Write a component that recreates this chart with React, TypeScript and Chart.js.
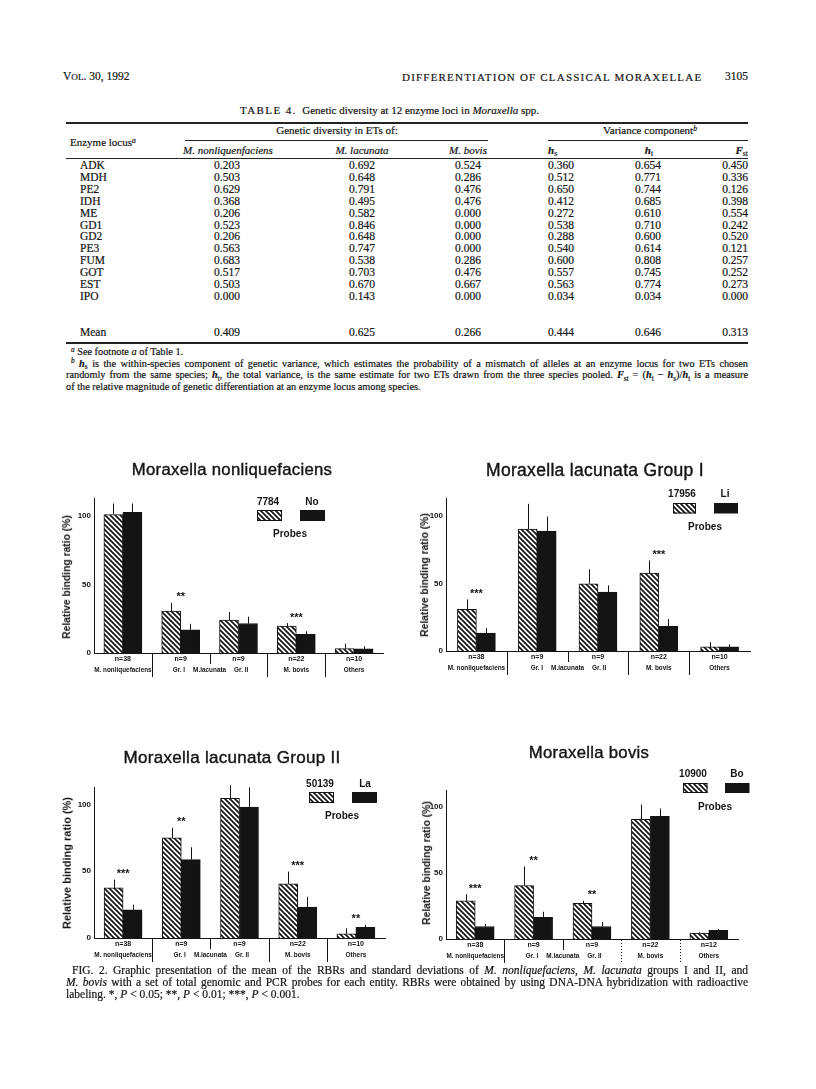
import React, { useEffect, useRef } from "react";
import { Chart, registerables } from "chart.js";

Chart.register(...registerables);

const SERIF = "'Liberation Serif', 'Times New Roman', serif";
const SANS = "'Liberation Sans', Arial, Helvetica, sans-serif";
const INK = "#141414";

// ---------------- TABLE 4 data ----------------
const enzymeLoci = ["ADK", "MDH", "PE2", "IDH", "ME", "GD1", "GD2", "PE3", "FUM", "GOT", "EST", "IPO"];
const divNonliquefaciens = ["0.203", "0.503", "0.629", "0.368", "0.206", "0.523", "0.206", "0.563", "0.683", "0.517", "0.503", "0.000"];
const divLacunata = ["0.692", "0.648", "0.791", "0.495", "0.582", "0.846", "0.648", "0.747", "0.538", "0.703", "0.670", "0.143"];
const divBovis = ["0.524", "0.286", "0.476", "0.476", "0.000", "0.000", "0.000", "0.000", "0.286", "0.476", "0.667", "0.000"];
const varHs = ["0.360", "0.512", "0.650", "0.412", "0.272", "0.538", "0.288", "0.540", "0.600", "0.557", "0.563", "0.034"];
const varHt = ["0.654", "0.771", "0.744", "0.685", "0.610", "0.710", "0.600", "0.614", "0.808", "0.745", "0.774", "0.034"];
const varFst = ["0.450", "0.336", "0.126", "0.398", "0.554", "0.242", "0.520", "0.121", "0.257", "0.252", "0.273", "0.000"];
const meanRow = ["0.409", "0.625", "0.266", "0.444", "0.646", "0.313"];

// ---------------- FIG. 2 data ----------------
const groupNames = ["M. nonliquefaciens", "Gr. I", "Gr. II", "M. bovis", "Others"];
const lacunataSpan = "M.lacunata";
const yTicks = [0, 50, 100];
const yMax = 113;
const yAxisTitle = "Relative binding ratio (%)";
const probesWord = "Probes";

// Moraxella nonliquefaciens
const nonliqTitle = "Moraxella nonliquefaciens";
const nonliqProbes = ["7784", "No"];
const nonliqCounts = ["n=38", "n=9", "n=9", "n=22", "n=10"];
const nonliqGenomic = [101, 30.6, 24, 19.6, 3.2];
const nonliqGenomicSD = [8, 5.9, 5.9, 2.2, 3.6];
const nonliqPcr = [102.6, 16.9, 21.5, 13.7, 3.0];
const nonliqPcrSD = [6.4, 4.4, 5.0, 2.2, 1.9];
const nonliqSig = ["", "**", "", "***", ""];

// Moraxella lacunata Group I
const lacITitle = "Moraxella lacunata Group I";
const lacIProbes = ["17956", "Li"];
const lacICounts = ["n=38", "n=9", "n=9", "n=22", "n=10"];
const lacIGenomic = [30.7, 90, 49.7, 57.5, 3.0];
const lacIGenomicSD = [7.4, 18.7, 10.6, 9.4, 3.6];
const lacIPcr = [13.3, 88.5, 43.5, 18.2, 3.0];
const lacIPcrSD = [3.7, 10.8, 5.0, 5.4, 2.0];
const lacISig = ["***", "", "", "***", ""];

// Moraxella lacunata Group II
const lacIITitle = "Moraxella lacunata Group II";
const lacIIProbes = ["50139", "La"];
const lacIICounts = ["n=38", "n=9", "n=9", "n=22", "n=10"];
const lacIIGenomic = [37.5, 74.9, 104.5, 40.5, 3.2];
const lacIIGenomicSD = [6.2, 7.6, 9.9, 9.2, 4.0];
const lacIIPcr = [21.1, 58.7, 98, 23.1, 7.9];
const lacIIPcrSD = [3.8, 9.2, 14.7, 7.7, 2.0];
const lacIISig = ["***", "**", "", "***", "**"];

// Moraxella bovis
const bovisTitle = "Moraxella bovis";
const bovisProbes = ["10900", "Bo"];
const bovisCounts = ["n=38", "n=9", "n=9", "n=22", "n=12"];
const bovisGenomic = [29, 40.5, 27, 90.8, 4.5];
const bovisGenomicSD = [5, 14.5, 2, 11.2, 0.5];
const bovisPcr = [9.5, 16.5, 9.5, 93, 6.5];
const bovisPcrSD = [2, 4.2, 3.3, 6, 1];
const bovisSig = ["***", "**", "**", "", ""];

type P2 = [number, number];
type PanelSpec = {
  title: string; titleX: number; titleY: number; titleSize: number;
  axisX: number; right: number; top: number; base: number;
  yTitleX: number; yTitleY: number; yTitleSize: number;
  probes: string[]; counts: string[];
  genomic: number[]; genomicSD: number[]; pcr: number[]; pcrSD: number[]; sig: string[];
  leg: { t1: P2; t2: P2; s1: number[]; s2: number[]; p: P2 };
  dotted: number[];
};

const panels: PanelSpec[] = [
  {
    title: nonliqTitle, titleX: 232, titleY: 470, titleSize: 16.7,
    axisX: 94, right: 383, top: 498, base: 653,
    yTitleX: 67, yTitleY: 577, yTitleSize: 10.3,
    probes: nonliqProbes, counts: nonliqCounts,
    genomic: nonliqGenomic, genomicSD: nonliqGenomicSD, pcr: nonliqPcr, pcrSD: nonliqPcrSD, sig: nonliqSig,
    leg: { t1: [268, 502], t2: [312, 502], s1: [257, 510, 25, 11], s2: [300, 510, 25, 11], p: [290, 534] },
    dotted: [],
  },
  {
    title: lacITitle, titleX: 595, titleY: 470, titleSize: 17.5,
    axisX: 446, right: 750, top: 498, base: 651,
    yTitleX: 425, yTitleY: 575, yTitleSize: 10.3,
    probes: lacIProbes, counts: lacICounts,
    genomic: lacIGenomic, genomicSD: lacIGenomicSD, pcr: lacIPcr, pcrSD: lacIPcrSD, sig: lacISig,
    leg: { t1: [682, 494], t2: [725, 494], s1: [673, 503, 23, 10.5], s2: [714, 503, 24, 10.5], p: [705, 527] },
    dotted: [],
  },
  {
    title: lacIITitle, titleX: 232, titleY: 758, titleSize: 17,
    axisX: 94, right: 385, top: 787, base: 938,
    yTitleX: 67, yTitleY: 863, yTitleSize: 11,
    probes: lacIIProbes, counts: lacIICounts,
    genomic: lacIIGenomic, genomicSD: lacIIGenomicSD, pcr: lacIIPcr, pcrSD: lacIIPcrSD, sig: lacIISig,
    leg: { t1: [320, 784], t2: [365, 784], s1: [309, 792, 25, 11], s2: [352, 792, 25, 11], p: [342, 816] },
    dotted: [],
  },
  {
    title: bovisTitle, titleX: 589, titleY: 753, titleSize: 16.7,
    axisX: 446, right: 738, top: 790, base: 939,
    yTitleX: 427, yTitleY: 863, yTitleSize: 10.3,
    probes: bovisProbes, counts: bovisCounts,
    genomic: bovisGenomic, genomicSD: bovisGenomicSD, pcr: bovisPcr, pcrSD: bovisPcrSD, sig: bovisSig,
    leg: { t1: [693, 774], t2: [737, 774], s1: [683, 783, 24.5, 10], s2: [725, 783, 24.5, 10], p: [715, 807] },
    dotted: [2, 3],
  },
];

function makeHatch(ctx: CanvasRenderingContext2D): CanvasPattern {
  const s = 5;
  const tile = document.createElement("canvas");
  tile.width = s;
  tile.height = s;
  const t = tile.getContext("2d")!;
  t.fillStyle = "#fff";
  t.fillRect(0, 0, s, s);
  t.strokeStyle = INK;
  t.lineWidth = 1.7;
  t.beginPath();
  for (const k of [-s, 0, s]) {
    t.moveTo(k - 1, -1);
    t.lineTo(k + s + 1, s + 1);
  }
  t.stroke();
  return ctx.createPattern(tile, "repeat")!;
}

function Panel({ spec }: { spec: PanelSpec }) {
  const ref = useRef<HTMLCanvasElement>(null);
  const cLeft = spec.axisX - 50;
  const cTop = spec.top - 34;
  const cW = spec.right + 22 - cLeft;
  const cH = spec.base + 32 - cTop;
  const yW = 20;

  useEffect(() => {
    const canvas = ref.current!;
    const hatch = makeHatch(canvas.getContext("2d")!);

    const decor = {
      id: "decor",
      afterDatasetsDraw(chart: any) {
        const ctx: CanvasRenderingContext2D = chart.ctx;
        const ys = chart.scales.y;
        ctx.save();
        ctx.strokeStyle = INK;
        ctx.lineWidth = 1;
        [spec.genomicSD, spec.pcrSD].forEach((sds, di) => {
          const meta = chart.getDatasetMeta(di);
          meta.data.forEach((bar: any, i: number) => {
            const v = chart.data.datasets[di].data[i] as number;
            const topPx = ys.getPixelForValue(v + sds[i]);
            const x = Math.round(bar.x) + 0.5;
            ctx.beginPath();
            ctx.moveTo(x, bar.y);
            ctx.lineTo(x, topPx);
            ctx.stroke();
          });
        });
        ctx.restore();
      },
      afterDraw(chart: any) {
        const ctx: CanvasRenderingContext2D = chart.ctx;
        const xs = chart.scales.x;
        const ys = chart.scales.y;
        const base = chart.chartArea.bottom;
        const n = groupNames.length;
        ctx.save();
        ctx.fillStyle = INK;
        ctx.strokeStyle = INK;

        // separators between groups
        const bounds: number[] = [];
        for (let i = 1; i < n; i++) {
          bounds.push((xs.getPixelForValue(i - 1) + xs.getPixelForValue(i)) / 2);
        }
        bounds.forEach((bx, bi) => {
          const len = bi === 1 ? 11 : 24;
          ctx.lineWidth = 1;
          ctx.setLineDash(spec.dotted.includes(bi) ? [1, 2] : []);
          const x = Math.round(bx) + 0.5;
          ctx.beginPath();
          ctx.moveTo(x, base + 1);
          ctx.lineTo(x, base + len);
          ctx.stroke();
        });
        ctx.setLineDash([]);

        // category labels
        ctx.textBaseline = "middle";
        ctx.textAlign = "center";
        ctx.font = `bold 7px ${SANS}`;
        for (let i = 0; i < n; i++) {
          ctx.fillText(spec.counts[i], xs.getPixelForValue(i), base + 6);
        }
        ctx.font = `bold 6.4px ${SANS}`;
        for (let i = 0; i < n; i++) {
          if (i !== 1 && i !== 2) ctx.fillText(groupNames[i], xs.getPixelForValue(i), base + 17.5);
        }
        const lacW = ctx.measureText(lacunataSpan).width;
        const b1 = bounds[1];
        ctx.fillText(lacunataSpan, b1, base + 17.5);
        ctx.textAlign = "right";
        ctx.fillText(groupNames[1], b1 - lacW / 2 - 8, base + 17.5);
        ctx.textAlign = "left";
        ctx.fillText(groupNames[2], b1 + lacW / 2 + 8, base + 17.5);

        // significance marks
        ctx.font = `bold 11px ${SANS}`;
        ctx.textAlign = "center";
        ctx.textBaseline = "alphabetic";
        for (let i = 0; i < n; i++) {
          if (!spec.sig[i]) continue;
          const hi = Math.max(spec.genomic[i] + spec.genomicSD[i], spec.pcr[i] + spec.pcrSD[i]);
          const yp = ys.getPixelForValue(hi);
          ctx.fillText(spec.sig[i], xs.getPixelForValue(i), yp - 2.5);
        }

        // legend
        const L = spec.leg;
        ctx.font = `bold 10px ${SANS}`;
        ctx.textBaseline = "middle";
        ctx.textAlign = "center";
        ctx.fillText(spec.probes[0], L.t1[0] - cLeft, L.t1[1] - cTop);
        ctx.fillText(spec.probes[1], L.t2[0] - cLeft, L.t2[1] - cTop);
        ctx.fillText(probesWord, L.p[0] - cLeft, L.p[1] - cTop);
        ctx.fillStyle = hatch;
        ctx.fillRect(L.s1[0] - cLeft, L.s1[1] - cTop, L.s1[2], L.s1[3]);
        ctx.lineWidth = 1;
        ctx.strokeRect(L.s1[0] - cLeft + 0.5, L.s1[1] - cTop + 0.5, L.s1[2] - 1, L.s1[3] - 1);
        ctx.fillStyle = INK;
        ctx.fillRect(L.s2[0] - cLeft, L.s2[1] - cTop, L.s2[2], L.s2[3]);
        ctx.restore();
      },
    };

    const chart = new Chart(canvas, {
      type: "bar",
      data: {
        labels: groupNames,
        datasets: [
          {
            label: spec.probes[0],
            data: spec.genomic,
            backgroundColor: hatch as any,
            borderColor: INK,
            borderWidth: 1,
            barThickness: 19,
          },
          {
            label: spec.probes[1],
            data: spec.pcr,
            backgroundColor: INK,
            borderColor: INK,
            borderWidth: 1,
            barThickness: 19,
          },
        ],
      },
      options: {
        responsive: false,
        animation: false,
        events: [],
        layout: {
          padding: {
            left: spec.axisX - cLeft - yW,
            right: cLeft + cW - spec.right,
            top: spec.top - cTop,
            bottom: cTop + cH - spec.base,
          },
        },
        plugins: {
          legend: { display: false },
          title: { display: false },
          tooltip: { enabled: false },
        },
        scales: {
          x: {
            type: "category",
            offset: true,
            grid: { display: false, drawTicks: false },
            border: { display: true, color: INK, width: 1 },
            ticks: { display: false },
            afterFit: (s: any) => {
              s.height = 0;
            },
          },
          y: {
            min: 0,
            max: yMax,
            grid: { display: false, drawTicks: false },
            border: { display: true, color: INK, width: 1 },
            ticks: {
              color: INK,
              padding: 3,
              font: { family: SANS, size: 8, weight: "bold" },
            },
            afterBuildTicks: (s: any) => {
              s.ticks = yTicks.map((v) => ({ value: v }));
            },
            afterFit: (s: any) => {
              s.width = yW;
            },
          },
        },
      },
      plugins: [decor],
    } as any);
    return () => chart.destroy();
  }, []);

  return (
    <>
      <canvas
        ref={ref}
        width={cW}
        height={cH}
        style={{ position: "absolute", left: cLeft, top: cTop, width: cW, height: cH }}
      />
      <Txt x={spec.titleX} y={spec.titleY} a="c" f={SANS} s={spec.titleSize} ls="0.3px" stroke="0.4px">
        {spec.title}
      </Txt>
      <div
        style={{
          position: "absolute",
          left: spec.yTitleX,
          top: spec.yTitleY,
          transform: "translate(-50%,-50%) rotate(-90deg)",
          whiteSpace: "nowrap",
          fontFamily: SANS,
          fontWeight: "bold",
          fontSize: spec.yTitleSize,
          lineHeight: 1.15,
          color: INK,
        }}
      >
        {yAxisTitle}
      </div>
    </>
  );
}

function Txt({ x, y, a = "l", f = SERIF, s = 11.5, w, it, ls, stroke, children }: any) {
  const tx = a === "c" ? "-50%" : a === "r" ? "-100%" : "0";
  return (
    <div
      style={{
        position: "absolute",
        left: x,
        top: y,
        transform: `translate(${tx},-50%)`,
        whiteSpace: "nowrap",
        fontFamily: f,
        fontSize: s,
        lineHeight: 1.15,
        fontWeight: w || "normal",
        fontStyle: it ? "italic" : "normal",
        letterSpacing: ls,
        color: INK,
        WebkitTextStroke: stroke ? `${stroke} ${INK}` : `0.2px ${INK}`,
      }}
    >
      {children}
    </div>
  );
}

function JLine({ x, y, w, s, last, children }: any) {
  return (
    <div
      style={{
        position: "absolute",
        left: x,
        top: y,
        width: w,
        transform: "translateY(-50%)",
        fontFamily: SERIF,
        fontSize: s,
        lineHeight: 1.15,
        textAlign: "justify",
        textAlignLast: last ? "left" : "justify",
        color: INK,
        WebkitTextStroke: `0.2px ${INK}`,
      }}
    >
      {children}
    </div>
  );
}

function Rule({ x1, x2, y, t }: any) {
  return (
    <div style={{ position: "absolute", left: x1, top: y - t / 2, width: x2 - x1, height: t, background: "#222" }} />
  );
}

const Sub = ({ children }: any) => (
  <span style={{ fontSize: "0.7em", position: "relative", top: "0.3em" }}>{children}</span>
);
const Sup = ({ children }: any) => (
  <span style={{ fontSize: "0.7em", position: "relative", top: "-0.45em", fontStyle: "italic" }}>{children}</span>
);
const HI = ({ v, sub }: any) => (
  <span>
    <b style={{ fontStyle: "italic" }}>{v}</b>
    <Sub>{sub}</Sub>
  </span>
);

export default function App() {
  const rowY = (i: number) => 166 + i * 11.9;
  const meanY = 333;
  const colNon = 227;
  const colLac = 362;
  const colBov = 468;
  const colHs = 548;
  const colHt = 648;
  const colFst = 748;

  return (
    <div style={{ position: "absolute", left: 0, top: 0, width: 816, height: 1089, background: "#fff", overflow: "hidden" }}>
      {/* running head */}
      <Txt x={63} y={77} s={11.5}>
        V<span style={{ fontSize: "0.8em" }}>OL</span>. 30, 1992
      </Txt>
      <Txt x={402} y={77} s={11} ls="1.2px">
        DIFFERENTIATION OF CLASSICAL MORAXELLAE
      </Txt>
      <Txt x={748} y={77} a="r" s={11.5}>
        3105
      </Txt>

      {/* table title */}
      <Txt x={240} y={110} s={11}>
        <span style={{ letterSpacing: "1.4px" }}>TABLE 4.</span>&nbsp; Genetic diversity at 12 enzyme loci in{" "}
        <i>Moraxella</i> spp.
      </Txt>

      <Rule x1={66} x2={748} y={123} t={1.4} />
      <Txt x={70} y={142} s={11}>
        Enzyme locus<Sup>a</Sup>
      </Txt>
      <Txt x={337} y={130} a="c" s={11}>
        Genetic diversity in ETs of:
      </Txt>
      <Rule x1={185} x2={488} y={140} t={0.8} />
      <Txt x={650} y={130} a="c" s={11}>
        Variance component<Sup>b</Sup>
      </Txt>
      <Rule x1={548} x2={748} y={140} t={0.8} />
      <Txt x={228} y={150} a="c" s={11} it>
        M. nonliquenfaciens
      </Txt>
      <Txt x={colLac} y={150} a="c" s={11} it>
        M. lacunata
      </Txt>
      <Txt x={colBov} y={150} a="c" s={11} it>
        M. bovis
      </Txt>
      <Txt x={colHs} y={150} s={11}>
        <HI v="h" sub="s" />
      </Txt>
      <Txt x={colHt + 1} y={150} a="c" s={11}>
        <HI v="h" sub="t" />
      </Txt>
      <Txt x={colFst} y={150} a="r" s={11}>
        <HI v="F" sub="st" />
      </Txt>
      <Rule x1={66} x2={748} y={158.5} t={0.9} />

      {enzymeLoci.map((loc, i) => (
        <React.Fragment key={loc}>
          <Txt x={80} y={rowY(i)}>{loc}</Txt>
          <Txt x={colNon} y={rowY(i)} a="c">{divNonliquefaciens[i]}</Txt>
          <Txt x={colLac} y={rowY(i)} a="c">{divLacunata[i]}</Txt>
          <Txt x={colBov} y={rowY(i)} a="c">{divBovis[i]}</Txt>
          <Txt x={colHs} y={rowY(i)}>{varHs[i]}</Txt>
          <Txt x={colHt} y={rowY(i)} a="c">{varHt[i]}</Txt>
          <Txt x={colFst} y={rowY(i)} a="r">{varFst[i]}</Txt>
        </React.Fragment>
      ))}
      <Txt x={80} y={meanY}>Mean</Txt>
      <Txt x={colNon} y={meanY} a="c">{meanRow[0]}</Txt>
      <Txt x={colLac} y={meanY} a="c">{meanRow[1]}</Txt>
      <Txt x={colBov} y={meanY} a="c">{meanRow[2]}</Txt>
      <Txt x={colHs} y={meanY}>{meanRow[3]}</Txt>
      <Txt x={colHt} y={meanY} a="c">{meanRow[4]}</Txt>
      <Txt x={colFst} y={meanY} a="r">{meanRow[5]}</Txt>
      <Rule x1={66} x2={748} y={343} t={1.4} />

      {/* footnotes */}
      <Txt x={71} y={352} s={10.3}>
        <Sup>a</Sup> See footnote <i>a</i> of Table 1.
      </Txt>
      <JLine x={71} y={363.7} w={677} s={10.3}>
        <Sup>b</Sup> <HI v="h" sub="s" /> is the within-species component of genetic variance, which estimates the
        probability of a mismatch of alleles at an enzyme locus for two ETs chosen
      </JLine>
      <JLine x={66} y={375.4} w={682} s={10.3}>
        randomly from the same species; <HI v="h" sub="t" />, the total variance, is the same estimate for two ETs drawn
        from the three species pooled. <HI v="F" sub="st" /> = (<HI v="h" sub="t" /> − <HI v="h" sub="s" />)/
        <HI v="h" sub="t" /> is a measure
      </JLine>
      <JLine x={66} y={387} w={682} s={10.3} last>
        of the relative magnitude of genetic differentiation at an enzyme locus among species.
      </JLine>

      {/* charts */}
      {panels.map((p, i) => (
        <Panel key={i} spec={p} />
      ))}

      {/* caption */}
      <JLine x={72} y={971} w={676} s={11.5}>
        FIG. 2. Graphic presentation of the mean of the RBRs and standard deviations of <i>M. nonliquefaciens</i>,{" "}
        <i>M. lacunata</i> groups I and II, and
      </JLine>
      <JLine x={66} y={983} w={682} s={11.5}>
        <i>M. bovis</i> with a set of total genomic and PCR probes for each entity. RBRs were obtained by using DNA-DNA
        hybridization with radioactive
      </JLine>
      <JLine x={66} y={995} w={682} s={11.5} last>
        labeling. *, <i>P</i> &lt; 0.05; **, <i>P</i> &lt; 0.01; ***, <i>P</i> &lt; 0.001.
      </JLine>
    </div>
  );
}
